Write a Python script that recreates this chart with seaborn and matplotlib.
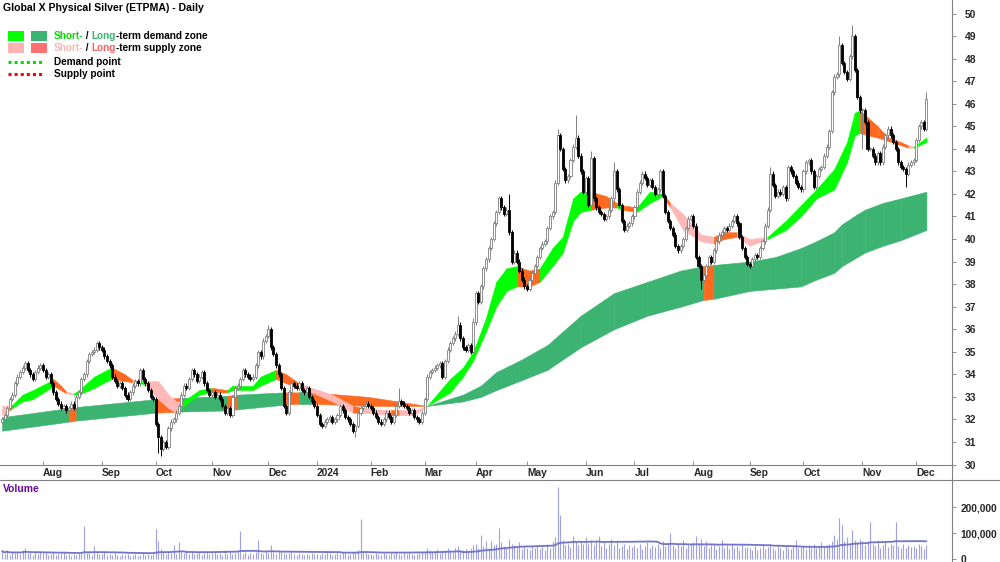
import numpy as np
import pandas as pd
import seaborn as sns
import matplotlib.pyplot as plt
from matplotlib.lines import Line2D
from matplotlib.patches import Rectangle

sns.set_theme(style="white")
plt.rcParams['font.family'] = ['Liberation Sans', 'DejaVu Sans']

# ---- data ----
start_day = '2023-07-10'
end_day = '2024-12-06'
asx_holidays = ['2023-12-25', '2023-12-26', '2024-01-01', '2024-01-26',
                '2024-03-29', '2024-04-01', '2024-04-25', '2024-06-10']

close_2023 = [
    [32.0, 32.2, 32.5, 32.9, 33.1, 33.6, 33.9, 34.1, 34.3, 34.5, 34.2, 34.0, 33.8, 34.1, 34.3, 34.4],
    [34.2, 33.9, 34.0, 33.6, 33.2, 32.9, 32.7, 32.5, 32.6, 32.4, 32.5, 32.7, 32.5, 33.0, 33.2, 33.8,
     34.0, 34.6, 34.9, 35.0, 35.1, 35.4, 35.2],
    [35.1, 34.8, 34.6, 34.4, 33.9, 33.7, 33.5, 33.6, 33.4, 33.1, 32.9, 33.2, 33.5, 33.7, 33.6, 34.2,
     33.8, 33.6, 33.3, 33.0, 32.9],
    [31.8, 31.2, 30.7, 31.0, 30.8, 31.6, 31.9, 32.0, 32.3, 32.6, 33.1, 33.5, 33.4, 33.8, 34.2, 34.0,
     33.7, 33.9, 34.1, 33.6, 33.3, 33.1],
    [33.2, 33.0, 33.1, 32.9, 32.6, 32.3, 32.5, 32.2, 33.0, 33.4, 33.5, 33.8, 34.2, 34.0, 33.9, 33.8,
     33.9, 34.4, 35.0, 34.8, 35.5, 35.7],
    [36.0, 35.2, 34.9, 34.4, 34.0, 33.4, 32.6, 32.3, 33.2, 33.6, 33.5, 33.4, 33.6, 33.3, 33.2, 33.4,
     33.0, 32.8, 32.6],
]
close_2024 = [
    [32.2, 31.8, 31.7, 31.9, 32.0, 32.1, 31.9, 32.0, 32.2, 32.6, 32.4, 32.1, 32.0, 31.8, 31.5, 31.7,
     32.3, 32.5, 32.6, 32.7, 32.6],
    [32.5, 32.3, 32.1, 31.9, 31.8, 32.0, 32.3, 32.1, 31.9, 32.2, 32.6, 32.8, 32.7, 32.6, 32.5, 32.3,
     32.4, 32.1, 32.0, 31.9, 32.3],
    [32.9, 33.9, 34.1, 34.2, 34.3, 34.4, 34.5, 33.9, 34.6, 35.1, 35.4, 35.6, 35.8, 36.2, 35.6, 35.2,
     35.1, 35.3, 35.0, 36.3],
    [37.6, 37.2, 37.9, 38.7, 39.1, 39.6, 40.0, 40.7, 41.2, 41.8, 41.4, 41.1, 41.3, 40.3, 39.0, 39.4,
     39.0, 38.6, 38.2, 37.9],
    [37.8, 38.2, 38.5, 38.8, 39.2, 39.6, 39.8, 39.9, 40.5, 41.0, 41.2, 42.5, 44.6, 44.0, 43.1, 42.6,
     42.8, 43.5, 44.1, 44.5, 43.7, 43.0, 42.1],
    [42.7, 41.5, 43.6, 41.8, 41.4, 41.2, 41.1, 40.9, 41.0, 41.3, 41.8, 43.0, 42.2, 41.5, 40.8, 40.4,
     40.6, 40.7, 41.0],
    [41.4, 42.1, 42.5, 42.9, 42.7, 42.4, 42.6, 42.3, 42.0, 42.2, 43.0, 41.9, 41.2, 40.8, 40.5, 40.2,
     39.7, 39.5, 39.7, 40.0, 40.5, 40.9, 41.0],
    [40.6, 39.2, 38.8, 38.2, 38.4, 38.8, 39.2, 39.0, 39.5, 39.9, 40.2, 40.3, 40.5, 40.4, 40.6, 40.8,
     41.0, 40.7, 40.1, 39.6, 39.2, 38.9],
    [38.8, 39.1, 39.3, 39.2, 39.6, 39.9, 40.6, 41.3, 42.9, 42.4, 41.9, 42.1, 42.0, 42.3, 41.8, 43.2,
     43.0, 42.8, 42.5, 42.3, 42.2],
    [43.0, 43.4, 43.5, 43.0, 42.3, 42.8, 43.1, 43.2, 43.7, 44.1, 44.8, 46.5, 47.2, 47.3, 48.6, 47.8,
     47.4, 47.1, 48.1, 49.0, 47.5, 46.3, 45.7],
    [45.7, 45.2, 44.0, 44.0, 43.7, 43.4, 43.8, 43.4, 44.1, 44.6, 44.9, 44.6, 44.3, 44.0, 43.4, 43.2,
     43.1, 42.9, 43.3, 43.4, 43.5],
    [44.4, 45.0, 45.2, 44.9, 46.2],
]
first_open = 31.9
wick_highs = {104: 36.2, 155: 33.4, 178: 36.6, 184: 36.5, 198: 42.0, 217: 44.9, 224: 45.5,
              230: 43.9, 239: 43.4, 300: 43.2, 327: 49.0, 332: 49.5, 361: 46.5}
wick_lows = {61: 30.5, 62: 30.4, 138: 31.2, 273: 37.8, 336: 44.0, 353: 42.3}

# volume in thousands, per month
vol_2023 = [
    [32, 22, 35, 18, 28, 25, 30, 20, 38, 44, 24, 26, 18, 30, 22, 27],
    [25, 30, 15, 22, 28, 18, 20, 24, 30, 16, 20, 14, 22, 18, 25, 20, 128, 24, 30, 18, 52, 26, 22],
    [20, 34, 18, 22, 15, 25, 18, 12, 20, 16, 22, 14, 18, 20, 12, 16, 24, 18, 22, 15, 20],
    [115, 72, 40, 28, 22, 30, 25, 55, 20, 68, 30, 24, 35, 22, 28, 20, 26, 32, 18, 25, 30, 22],
    [24, 30, 22, 26, 18, 35, 22, 28, 20, 24, 30, 108, 22, 28, 18, 26, 22, 30, 76, 24, 20, 34],
    [26, 56, 30, 22, 35, 28, 24, 20, 26, 30, 22, 18, 25, 20, 16, 22, 18, 24, 20],
]
vol_2024 = [
    [22, 18, 25, 20, 30, 24, 18, 22, 26, 20, 28, 24, 18, 22, 30, 26, 35, 156, 30, 24, 20],
    [22, 18, 24, 20, 16, 26, 22, 18, 24, 20, 28, 22, 18, 24, 20, 26, 22, 18, 20, 24, 28],
    [30, 45, 35, 28, 32, 40, 26, 30, 38, 45, 35, 30, 42, 50, 38, 35, 40, 32, 45, 55],
    [60, 45, 95, 50, 70, 45, 70, 55, 60, 120, 65, 50, 45, 80, 60, 55, 48, 65, 40, 52],
    [45, 38, 50, 42, 55, 40, 48, 35, 60, 45, 70, 85, 280, 170, 75, 55, 60, 48, 90, 65, 55, 70, 60],
    [85, 60, 75, 55, 70, 90, 50, 65, 45, 60, 80, 55, 70, 45, 50, 60, 40, 55, 48],
    [55, 45, 60, 40, 50, 65, 42, 55, 48, 60, 45, 70, 50, 62, 100, 55, 45, 60, 50, 75, 45, 55, 60],
    [65, 90, 60, 80, 50, 70, 45, 55, 60, 40, 50, 75, 45, 55, 40, 60, 45, 50, 38, 55, 42, 48],
    [45, 38, 50, 35, 42, 55, 40, 48, 60, 45, 35, 50, 42, 38, 55, 45, 40, 50, 75, 42, 48],
    [50, 40, 55, 45, 60, 42, 50, 65, 48, 55, 60, 70, 95, 80, 160, 134, 70, 85, 60, 114, 75, 65, 80],
    [70, 55, 65, 144, 60, 50, 70, 45, 55, 65, 48, 60, 55, 144, 50, 45, 60, 42, 55, 48, 52],
    [45, 60, 50, 40, 55],
]

# long-term band (day index, upper, lower, zone type of segment to next point)
lt_day = [0, 26, 29, 60, 70, 88, 92, 110, 116, 121, 143, 166, 180, 187, 193, 202, 213, 226, 239,
          252, 265, 274, 278, 292, 302, 312, 318, 325, 328, 334, 337, 344, 351, 361]
lt_top = [32.1, 32.5, 32.55, 32.9, 32.95, 33.05, 33.1, 33.2, 33.2, 33.2, 33.0, 32.6, 33.1, 33.5,
          34.1, 34.6, 35.3, 36.6, 37.6, 38.1, 38.6, 38.8, 38.85, 39.0, 39.2, 39.6, 39.9, 40.3,
          40.65, 41.1, 41.3, 41.6, 41.8, 42.1]
lt_bot = [31.5, 31.9, 31.95, 32.3, 32.35, 32.4, 32.45, 32.65, 32.7, 32.7, 32.6, 32.6, 32.8, 33.0,
          33.3, 33.7, 34.2, 35.2, 36.0, 36.6, 37.0, 37.3, 37.35, 37.7, 37.8, 37.9, 38.2, 38.5,
          38.8, 39.2, 39.4, 39.7, 39.95, 40.4]
lt_zone = ['D', 'S', 'D', 'S', 'D', 'S', 'D', 'S', 'D', 'S', 'S', 'D', 'D', 'D', 'D', 'D', 'D',
           'D', 'D', 'D', 'D', 'S', 'D', 'D', 'D', 'D', 'D', 'D', 'D', 'D', 'D', 'D', 'D', 'D']

# short-term band
st_day = [0, 3, 4, 8, 12, 19, 20, 23, 25, 28, 30, 36, 41, 43, 48, 51, 54, 56, 61, 65, 68, 70, 72,
          77, 82, 88, 90, 98, 101, 107, 111, 116, 121, 129, 137, 141, 152, 155, 161, 166, 175, 180,
          184, 189, 193, 197, 201, 206, 210, 215, 219, 223, 226, 230, 236, 240, 242, 248, 253, 258,
          261, 266, 273, 278, 282, 287, 292, 299, 306, 312, 318, 325, 330, 333, 335, 338, 342, 346,
          350, 354, 356, 361]
st_top = [32.6, 32.6, 32.65, 33.1, 33.3, 33.7, 33.8, 33.5, 33.25, 33.15, 33.3, 33.9, 34.2, 34.3,
          34.0, 33.75, 33.7, 33.7, 33.7, 33.1, 32.8, 32.8, 32.9, 33.3, 33.4, 33.3, 33.5, 33.5, 33.9,
          34.2, 34.0, 33.6, 33.4, 33.1, 32.6, 32.5, 32.4, 32.4, 32.4, 32.6, 33.8, 34.3, 35.0, 36.5,
          38.1, 38.7, 38.8, 38.6, 38.7, 39.6, 40.1, 41.8, 42.1, 42.1, 41.9, 41.6, 41.5, 41.4, 42.1,
          42.0, 41.6, 41.1, 40.2, 40.1, 40.3, 40.3, 40.0, 40.1, 40.8, 41.5, 42.2, 43.1, 44.3, 45.6,
          45.7, 45.4, 45.0, 44.5, 44.35, 44.15, 44.1, 44.5]
st_bot = [32.2, 32.4, 32.5, 32.8, 32.9, 33.4, 33.5, 33.3, 33.15, 33.1, 33.1, 33.4, 33.7, 33.8,
          33.7, 33.65, 33.6, 33.55, 32.9, 32.5, 32.3, 32.5, 32.7, 33.1, 33.2, 33.2, 33.3, 33.3, 33.5,
          33.8, 33.6, 33.4, 33.2, 32.8, 32.3, 32.3, 32.2, 32.2, 32.2, 32.6, 33.2, 33.9, 34.6, 35.9,
          37.0, 37.7, 37.9, 37.9, 38.1, 38.8, 39.4, 40.8, 41.2, 41.3, 41.4, 41.4, 41.3, 41.2, 41.6,
          41.9, 41.4, 40.4, 39.9, 39.8, 40.0, 40.1, 39.7, 40.0, 40.4, 41.0, 41.8, 42.2, 43.4, 44.6,
          44.7, 44.6, 44.5, 44.35, 44.2, 44.05, 44.05, 44.3]
st_zone = ['W', 'S', 'D', 'D', 'D', 'D', 'S', 'S', 'W', 'D', 'D', 'D', 'D', 'S', 'S', 'W', 'D',
           'W', 'W', 'W', 'W', 'D', 'D', 'D', 'S', 'D', 'D', 'D', 'D', 'S', 'S', 'W', 'W', 'W',
           'S', 'W', 'S', 'W', 'W', 'D', 'D', 'D', 'D', 'D', 'D', 'D', 'S', 'S', 'D', 'D', 'D',
           'D', 'D', 'S', 'S', 'D', 'S', 'D', 'D', 'S', 'W', 'W', 'W', 'S', 'S', 'W', 'W', 'D',
           'D', 'D', 'D', 'D', 'D', 'D', 'S', 'S', 'S', 'S', 'S', 'W', 'D', 'D']

# ---- build series ----
dates = pd.bdate_range(start_day, end_day)
dates = dates[~dates.isin(pd.to_datetime(asx_holidays))]
close = np.array([v for m in close_2023 + close_2024 for v in m])
volume = np.array([v for m in vol_2023 + vol_2024 for v in m]) * 1000.0
n = min(len(dates), len(close), len(volume))
dates, close, volume = dates[:n], close[:n], volume[:n]
idx = np.arange(n)

opn = np.r_[first_open, close[:-1]]
hi = np.maximum(opn, close) + 0.1
lo = np.minimum(opn, close) - 0.1
for k, v in wick_highs.items():
    if k < n:
        hi[k] = max(hi[k], v)
for k, v in wick_lows.items():
    if k < n:
        lo[k] = min(lo[k], v)
vol_ma = pd.Series(volume).rolling(40, min_periods=1).mean()

month_start = [i for i in range(1, n) if dates[i].month != dates[i - 1].month]
month_lab = [('2024' if dates[i].month == 1 else dates[i].strftime('%b')) for i in month_start]

# ---- figure ----
W, H = 1000, 562
fig = plt.figure(figsize=(10, 5.62), dpi=100)
ax = fig.add_axes([0, 1 - 465 / H, 0.952, 465 / H])
axv = fig.add_axes([0, 0, 0.952, 82 / H])

st_col = {'D': '#00ff00', 'S': '#ff6a20', 'W': '#ffb8b8'}
lt_col = {'D': '#3cb371', 'S': '#ff6a20'}


def draw_band(days, top, bot, zone, cmap):
    for k in range(len(days) - 1):
        c = cmap[zone[k]]
        ax.fill_between(days[k:k + 2], bot[k:k + 2], top[k:k + 2], color=c, ec=c, lw=0.4, zorder=1)


draw_band(lt_day, lt_top, lt_bot, lt_zone, lt_col)
draw_band(st_day, st_top, st_bot, st_zone, st_col)

up = close >= opn
body = np.maximum(np.abs(close - opn), 0.05)
ax.vlines(idx[up], lo[up], hi[up], color='#7f7f7f', lw=0.7, zorder=2)
ax.vlines(idx[~up], lo[~up], hi[~up], color='black', lw=0.7, zorder=2)
ax.bar(idx[up], body[up], bottom=opn[up], width=0.8, color='white', edgecolor='#7f7f7f', lw=0.6, zorder=3)
ax.bar(idx[~up], body[~up], bottom=close[~up], width=0.8, color='black', edgecolor='black', lw=0.6, zorder=3)

ax.set_xlim(-0.8, 371)
ax.set_ylim(29.98, 50.6)
ax.yaxis.tick_right()
ax.set_yticks(range(30, 51))
ax.tick_params(axis='y', which='both', right=True, length=3, width=0.6, color='#808080',
               labelsize=7.4, pad=6)
ax.set_xticks(month_start)
ax.set_xticklabels(month_lab)
ax.tick_params(axis='x', bottom=True, direction='in', length=3, width=0.6, color='#808080',
               labelsize=7.4, pad=2)
for lbl in ax.get_xticklabels() + ax.get_yticklabels():
    lbl.set_fontweight('bold')
for lbl in ax.get_xticklabels():
    lbl.set_ha('left')
for s in ['top', 'left']:
    ax.spines[s].set_visible(False)
for s in ['right', 'bottom']:
    ax.spines[s].set_color('#808080')
    ax.spines[s].set_linewidth(0.8)

# volume panel
axv.vlines(idx, 0, volume, color='#a0a0e6', lw=0.8)
sns.lineplot(x=idx, y=vol_ma.values, ax=axv, color='#7474c8', lw=1.3)
axv.set_xlim(-0.8, 371)
axv.set_ylim(-10000, 305000)
axv.yaxis.tick_right()
axv.set_yticks([0, 100000, 200000])
axv.set_yticklabels(['0', '100,000', '200,000'])
axv.tick_params(axis='y', right=True, length=3, width=0.6, color='#808080', labelsize=7.4, pad=3)
for lbl in axv.get_yticklabels():
    lbl.set_fontweight('bold')
axv.set_xticks([])
for s in ['top', 'left', 'bottom']:
    axv.spines[s].set_visible(False)
axv.spines['right'].set_color('#808080')
axv.spines['right'].set_linewidth(0.8)


def fx(x):
    return x / W


def fy(y):
    return 1 - y / H


fig.add_artist(Line2D([0, 1], [fy(480), fy(480)], color='#808080', lw=0.8))
fig.add_artist(Line2D([fx(952), fx(952)], [fy(465), fy(480)], color='#808080', lw=0.8))

fig.text(fx(3), fy(8), 'Global X Physical Silver (ETPMA) - Daily', fontsize=7.6,
         fontweight='bold', va='center', ha='left', color='black')
fig.text(fx(3), fy(489), 'Volume', fontsize=7.4, fontweight='bold', va='center', ha='left',
         color='#66099a')

# legend
for (x0, y0, c) in [(8, 31, '#00ff00'), (31, 31, '#3cb371'), (8, 43, '#ffb3b3'), (31, 43, '#ff7070')]:
    fig.add_artist(Rectangle((fx(x0), fy(y0 + 10)), 16 / W, 10 / H, color=c, lw=0))
fig.add_artist(Line2D([fx(8), fx(43)], [fy(62), fy(62)], color='#00e000', lw=2.2, ls=(0, (1, 1))))
fig.add_artist(Line2D([fx(8), fx(43)], [fy(74), fy(74)], color='#ff0000', lw=2.2, ls=(0, (1, 1))))

renderer = fig.canvas.get_renderer()


def rich(x, y, parts):
    for txt, col in parts:
        t = fig.text(fx(x), fy(y), txt, color=col, fontsize=7.2, fontweight='bold',
                     va='center', ha='left')
        x += t.get_window_extent(renderer).width


rich(54, 36, [('Short-', '#00e000'), (' / ', 'black'), ('Long', '#3cb371'),
              ('-term demand zone', 'black')])
rich(54, 48, [('Short-', '#ffb3b3'), (' / ', 'black'), ('Long', '#ff6060'),
              ('-term supply zone', 'black')])
rich(54, 62, [('Demand point', 'black')])
rich(54, 74, [('Supply point', 'black')])

fig.savefig('out.png', dpi=100)
